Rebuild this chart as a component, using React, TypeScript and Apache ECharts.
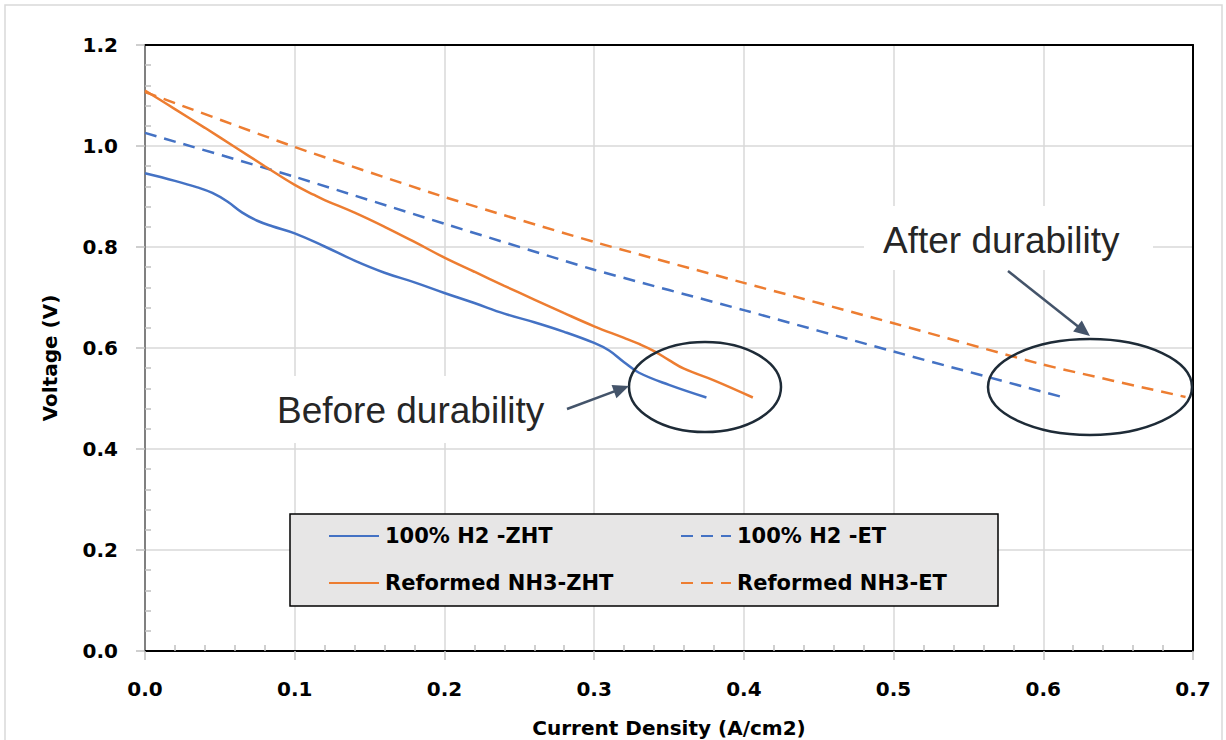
import React, { useEffect, useRef } from "react";
import * as echarts from "echarts";

// ---- Data ----
const h2ZHT: [number, number][] = [
  [0, 0.946], [0.02, 0.931], [0.035, 0.918], [0.045, 0.907], [0.055, 0.89], [0.065, 0.868],
  [0.075, 0.852], [0.085, 0.841], [0.1, 0.827], [0.12, 0.801], [0.14, 0.773], [0.16, 0.749], [0.18, 0.73],
  [0.2, 0.709], [0.22, 0.689], [0.24, 0.668], [0.26, 0.651], [0.28, 0.632], [0.3, 0.61],
  [0.31, 0.595], [0.32, 0.572], [0.33, 0.551], [0.35, 0.527], [0.375, 0.502],
];
const h2ET: [number, number][] = [
  [0, 1.026], [0.1, 0.939], [0.2, 0.846], [0.3, 0.755], [0.4, 0.675], [0.5, 0.593], [0.6125, 0.503],
];
const nh3ZHT: [number, number][] = [
  [0, 1.11], [0.02, 1.073], [0.04, 1.036], [0.06, 0.998], [0.08, 0.96], [0.1, 0.923],
  [0.113, 0.903], [0.12, 0.893], [0.14, 0.868], [0.16, 0.84], [0.18, 0.81], [0.2, 0.779],
  [0.22, 0.751], [0.24, 0.723], [0.26, 0.696], [0.28, 0.669], [0.3, 0.643], [0.32, 0.62],
  [0.33, 0.608], [0.34, 0.594], [0.35, 0.576], [0.36, 0.559], [0.38, 0.536], [0.406, 0.502],
];
const nh3ET: [number, number][] = [
  [0, 1.107], [0.1, 0.998], [0.2, 0.899], [0.3, 0.81], [0.4, 0.729], [0.5, 0.649], [0.6, 0.567], [0.695, 0.503],
];
const seriesNames = ["100% H2 -ZHT", "100% H2 -ET", "Reformed NH3-ZHT", "Reformed NH3-ET"];
const annotations = ["Before durability", "After durability"];
const xTitle = "Current Density (A/cm2)";
const yTitle = "Voltage (V)";

const BLUE = "#4472C4";
const ORANGE = "#ED7D31";
const GRID = "#D9D9D9";
const TICK = "#BFBFBF";
const FONT = "DejaVu Sans";

function arrowHead(x1: number, y1: number, x2: number, y2: number, len = 16, w = 7) {
  const dx = x2 - x1, dy = y2 - y1;
  const d = Math.hypot(dx, dy);
  const ux = dx / d, uy = dy / d;
  const bx = x2 - ux * len, by = y2 - uy * len;
  return [[x2, y2], [bx - uy * w, by + ux * w], [bx + uy * w, by - ux * w]];
}

function arrow(x1: number, y1: number, x2: number, y2: number) {
  const dx = x2 - x1, dy = y2 - y1;
  const d = Math.hypot(dx, dy);
  const ex = x2 - (dx / d) * 12, ey = y2 - (dy / d) * 12;
  return [
    { type: "line", z: 6, shape: { x1, y1, x2: ex, y2: ey }, style: { stroke: "#44546A", lineWidth: 2.5 } },
    { type: "polygon", z: 6, shape: { points: arrowHead(x1, y1, x2, y2) }, style: { fill: "#44546A" } },
  ];
}

export default function App() {
  const ref = useRef<HTMLDivElement>(null);
  useEffect(() => {
    document.body.style.margin = "0";
    const chart = echarts.init(ref.current!, null, { renderer: "svg" });
    const labelStyle = { fontFamily: FONT, fontWeight: "bold" as const, fontSize: 20, color: "#000" };
    const legendText = { fontFamily: FONT, fontWeight: "bold" as const, fontSize: 21, color: "#000", lineHeight: 24, padding: [0, 0, 0, 1] };
    const mkSeries = (name: string, data: [number, number][], color: string, dashed: boolean) => ({
      name,
      type: "line",
      data,
      xAxisIndex: 0,
      yAxisIndex: 0,
      symbol: "none",
      smooth: dashed ? 0.15 : 0.4,
      z: 2,
      lineStyle: { color, width: 2.5, type: dashed ? [12, 8] : "solid", cap: "butt" },
      itemStyle: { color },
    });
    const legendBase = {
      orient: "vertical", top: 519, itemWidth: 50, itemHeight: 14, itemGap: 23,
      textStyle: legendText, z: 10, selectedMode: false,
      itemStyle: { opacity: 0, borderWidth: 0 },
    };
    chart.setOption({
      animation: false,
      backgroundColor: "#fff",
      grid: { left: 145, right: 33, top: 45, bottom: 89, containLabel: false, outerBoundsMode: "none" },
      xAxis: [
        {
          type: "value", min: 0, max: 0.7, interval: 0.1, position: "bottom",
          name: xTitle, nameLocation: "middle", nameGap: 67,
          nameTextStyle: { fontFamily: FONT, fontWeight: "bold", fontSize: 20, color: "#000" },
          axisLine: { show: true, onZero: false, lineStyle: { color: "#000", width: 2 } },
          axisTick: { show: true, length: 9, lineStyle: { color: TICK, width: 1.5 } },
          axisLabel: { ...labelStyle, margin: 28, formatter: (v: number) => v.toFixed(1) },
          splitLine: { show: true, lineStyle: { color: GRID, width: 1.5 } },
        },
        {
          type: "value", min: 0, max: 0.7, interval: 0.1, position: "bottom",
          axisLine: { show: false, onZero: false },
          axisTick: { show: false, inside: true },
          minorTick: { show: true, splitNumber: 5, length: 6, lineStyle: { color: TICK, width: 1.5 } },
          axisLabel: { show: false },
          splitLine: { show: false },
        },
        {
          type: "value", min: 0, max: 0.7, position: "top",
          axisLine: { show: true, onZero: false, lineStyle: { color: "#000", width: 2 } },
          axisTick: { show: false }, axisLabel: { show: false }, splitLine: { show: false },
        },
      ],
      yAxis: [
        {
          type: "value", min: 0, max: 1.2, interval: 0.2, position: "left",
          name: yTitle, nameLocation: "middle", nameGap: 85,
          nameTextStyle: { fontFamily: FONT, fontWeight: "bold", fontSize: 20, color: "#000", padding: [0, 20, 0, 0] },
          axisLine: { show: true, onZero: false, lineStyle: { color: "#808080", width: 2 } },
          axisTick: { show: true, length: 9, lineStyle: { color: TICK, width: 1.5 } },
          axisLabel: { ...labelStyle, margin: 27, formatter: (v: number) => v.toFixed(1) },
          splitLine: { show: true, lineStyle: { color: GRID, width: 1.5 } },
        },
        {
          type: "value", min: 0, max: 1.2, interval: 0.2, position: "left",
          axisLine: { show: false, onZero: false },
          axisTick: { show: false, inside: true },
          minorTick: { show: true, splitNumber: 5, length: 6, lineStyle: { color: TICK, width: 1.5 } },
          axisLabel: { show: false },
          splitLine: { show: false },
        },
        {
          type: "value", min: 0, max: 1.2, position: "right",
          axisLine: { show: true, onZero: false, lineStyle: { color: "#000", width: 2 } },
          axisTick: { show: false }, axisLabel: { show: false }, splitLine: { show: false },
        },
      ],
      legend: [
        { ...legendBase, data: [seriesNames[0], seriesNames[2]], left: 323 },
        { ...legendBase, data: [seriesNames[1], seriesNames[3]], left: 675 },
      ],
      series: [
        mkSeries(seriesNames[0], h2ZHT, BLUE, false),
        mkSeries(seriesNames[1], h2ET, BLUE, true),
        mkSeries(seriesNames[2], nh3ZHT, ORANGE, false),
        mkSeries(seriesNames[3], nh3ET, ORANGE, true),
      ],
      graphic: [
        { type: "rect", z: 0, silent: true, shape: { x: 5, y: 5, width: 1217, height: 760 }, style: { fill: "none", stroke: "#D9D9D9", lineWidth: 1.5 } },
        { type: "rect", z: 3, shape: { x: 290, y: 514, width: 708, height: 92 }, style: { fill: "#E7E6E6", stroke: "#000", lineWidth: 1.5 } },
        { type: "rect", z: 3, shape: { x: 265, y: 376, width: 295, height: 67 }, style: { fill: "#fff" } },
        { type: "rect", z: 3, shape: { x: 864, y: 206, width: 289, height: 64 }, style: { fill: "#fff" } },
        { type: "text", z: 7, x: 277, y: 410, style: { text: annotations[0], font: '37px "Liberation Sans"', fill: "#262626", verticalAlign: "middle" } },
        { type: "text", z: 7, x: 883, y: 240, style: { text: annotations[1], font: '37px "Liberation Sans"', fill: "#262626", verticalAlign: "middle" } },
        { type: "ellipse", z: 5, shape: { cx: 705, cy: 387, rx: 76, ry: 45 }, style: { fill: "none", stroke: "#1E2B37", lineWidth: 2.5 } },
        { type: "ellipse", z: 5, shape: { cx: 1090, cy: 387, rx: 102, ry: 48 }, style: { fill: "none", stroke: "#1E2B37", lineWidth: 2.5 } },
        ...arrow(567, 409, 629, 386),
        ...arrow(1008, 271, 1090, 336),
      ],
    });
    return () => chart.dispose();
  }, []);
  return <div ref={ref} style={{ position: "absolute", left: 0, top: 0, width: 1226, height: 740 }} />;
}
